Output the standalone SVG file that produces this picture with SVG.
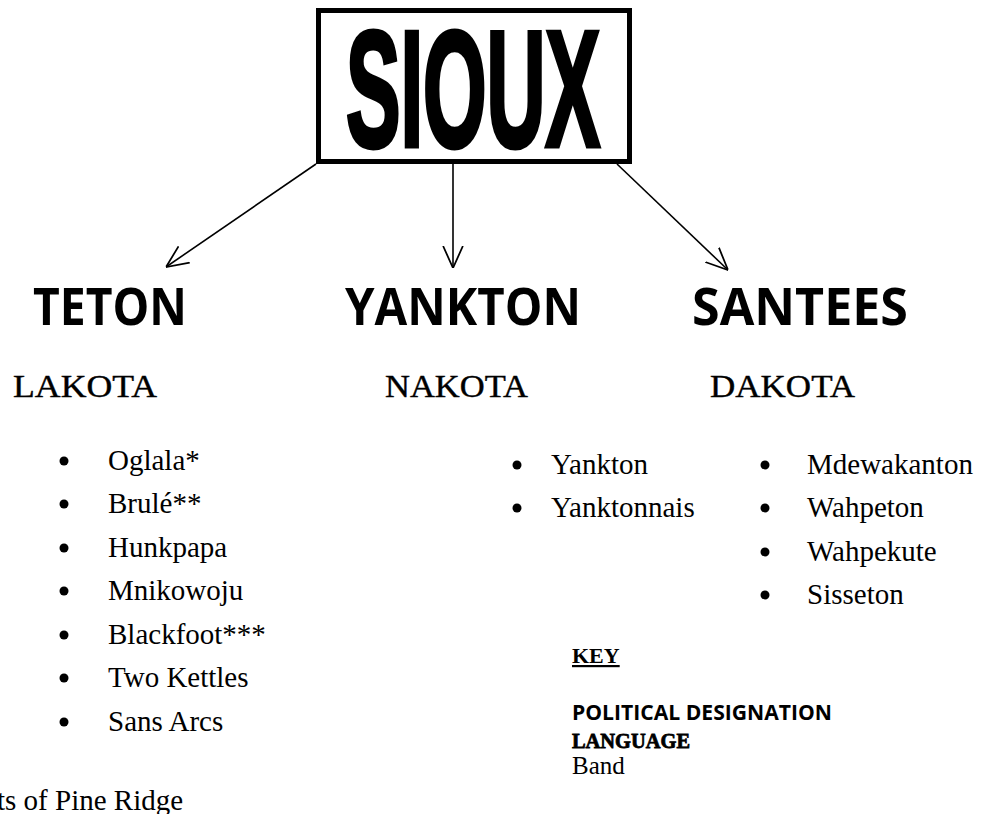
<svg xmlns="http://www.w3.org/2000/svg" width="995" height="814" viewBox="0 0 995 814">
<style>
.h{font-family:"Open Sans","Liberation Sans",sans-serif;font-weight:bold;font-size:52px;fill:#000}
.lang{font-family:"Liberation Serif",serif;font-size:32px;fill:#000;stroke:#000;stroke-width:0.4}
.li{font-family:"Liberation Serif",serif;font-size:29px;fill:#000}
.conn{stroke:#000;stroke-width:1.6;fill:none}
</style>
<defs>
<marker id="ah" viewBox="0 0 10 10" refX="10" refY="5" markerWidth="22" markerHeight="22" markerUnits="userSpaceOnUse" orient="auto">
<path d="M0,0.5 L10,5 L0,9.5" fill="none" stroke="#000" stroke-width="0.8"/>
</marker>
</defs>
<rect width="995" height="814" fill="#fff"/>
<g id="sioux">
<rect x="318.5" y="10.5" width="311" height="151" fill="#fff" stroke="#000" stroke-width="5"/>
<text x="346" y="146" font-family="Liberation Sans,sans-serif" font-weight="bold" font-size="166" textLength="254" lengthAdjust="spacingAndGlyphs" stroke="#000" stroke-width="5" fill="#000">SIOUX</text>
</g>
<g id="connectors">
<line class="conn" x1="316" y1="164" x2="166" y2="267" marker-end="url(#ah)"/>
<line class="conn" x1="453" y1="164" x2="453" y2="268" marker-end="url(#ah)"/>
<line class="conn" x1="617" y1="164" x2="728" y2="270" marker-end="url(#ah)"/>
</g>
<g id="teton">
<text class="h" x="33" y="325" textLength="154" lengthAdjust="spacingAndGlyphs">TETON</text>
<text class="lang" x="13" y="397" textLength="144" lengthAdjust="spacingAndGlyphs">LAKOTA</text>
<g class="li">
<circle cx="64" cy="461" r="4.5"/><text x="108" y="470">Oglala*</text>
<circle cx="64" cy="504" r="4.5"/><text x="108" y="513">Brulé**</text>
<circle cx="64" cy="548" r="4.5"/><text x="108" y="557">Hunkpapa</text>
<circle cx="64" cy="591" r="4.5"/><text x="108" y="600">Mnikowoju</text>
<circle cx="64" cy="635" r="4.5"/><text x="108" y="644">Blackfoot***</text>
<circle cx="64" cy="678" r="4.5"/><text x="108" y="687">Two Kettles</text>
<circle cx="64" cy="722" r="4.5"/><text x="108" y="731">Sans Arcs</text>
</g>
</g>
<g id="yankton">
<text class="h" x="345" y="325" textLength="236" lengthAdjust="spacingAndGlyphs">YANKTON</text>
<text class="lang" x="385" y="397" textLength="143" lengthAdjust="spacingAndGlyphs">NAKOTA</text>
<g class="li">
<circle cx="517" cy="465" r="4.5"/><text x="551" y="474">Yankton</text>
<circle cx="517" cy="508" r="4.5"/><text x="551" y="517">Yanktonnais</text>
</g>
</g>
<g id="santees">
<text class="h" x="692" y="325" textLength="216" lengthAdjust="spacingAndGlyphs">SANTEES</text>
<text class="lang" x="710" y="397" textLength="145" lengthAdjust="spacingAndGlyphs">DAKOTA</text>
<g class="li">
<circle cx="765" cy="465" r="4.5"/><text x="807" y="474">Mdewakanton</text>
<circle cx="765" cy="508" r="4.5"/><text x="807" y="517">Wahpeton</text>
<circle cx="765" cy="552" r="4.5"/><text x="807" y="561">Wahpekute</text>
<circle cx="765" cy="595" r="4.5"/><text x="807" y="604">Sisseton</text>
</g>
</g>
<g id="key">
<text x="572" y="663" font-family="Liberation Serif,serif" font-weight="bold" font-size="22" text-decoration="underline">KEY</text>
<text x="572" y="720" font-family="Open Sans,Liberation Sans,sans-serif" font-weight="bold" font-size="21" textLength="260" lengthAdjust="spacingAndGlyphs">POLITICAL DESIGNATION</text>
<text x="572" y="748" font-family="Liberation Serif,serif" font-weight="bold" font-size="22" stroke="#000" stroke-width="0.8" textLength="118" lengthAdjust="spacingAndGlyphs">LANGUAGE</text>
<text x="572" y="774" font-family="Liberation Serif,serif" font-size="25">Band</text>
</g>
<g id="footnote">
<text x="-3" y="810" class="li">ts of Pine Ridge</text>
</g>
</svg>
